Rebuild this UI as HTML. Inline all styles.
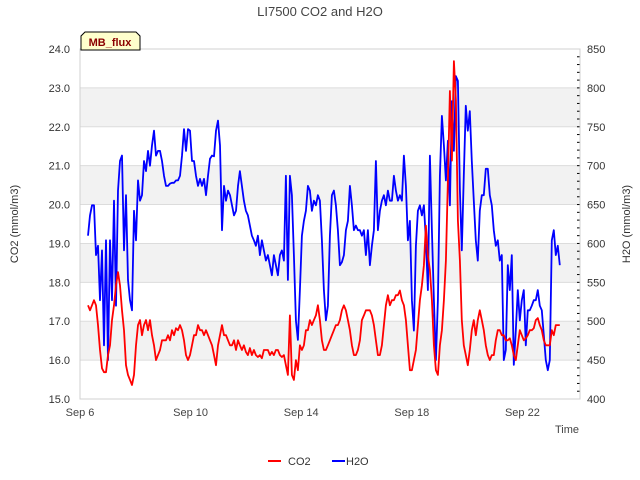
<!DOCTYPE html>
<html><head><meta charset="utf-8"><style>
body{margin:0;background:#fff;font-family:"Liberation Sans","DejaVu Sans",sans-serif;}
svg{display:block}
</style></head><body>
<svg id="chart" width="640" height="480" viewBox="0 0 640 480">
<g id="bands"></g><g id="grid"></g><g id="axes"></g><g id="series"></g>
<text x="320" y="16" text-anchor="middle" font-size="13" fill="#444">LI7500 CO2 and H2O</text>
<text x="18" y="224" text-anchor="middle" font-size="11" fill="#333" transform="rotate(-90 18 224)">CO2 (mmol/m3)</text>
<text x="630" y="224" text-anchor="middle" font-size="11" fill="#333" transform="rotate(-90 630 224)">H2O (mmol/m3)</text>
<text x="579" y="433" text-anchor="end" font-size="11" fill="#444">Time</text>
<g>
<line x1="268" y1="461" x2="281" y2="461" stroke="#f00" stroke-width="2"/>
<text x="288" y="465" font-size="11" fill="#333">CO2</text>
<line x1="332" y1="461" x2="345" y2="461" stroke="#00f" stroke-width="2"/>
<text x="346" y="465" font-size="11" fill="#333">H2O</text>
</g>
<g>
<path d="M81,50 L81,36 L85,32 L136,32 L140,36 L140,50 Z" fill="#ffffcc" stroke="#000" stroke-width="1"/>
<text x="110" y="46" text-anchor="middle" font-size="11" font-weight="bold" fill="#8b0000">MB_flux</text>
</g>
</svg>
<script>
const xTickLabels=["Sep 6","Sep 10","Sep 14","Sep 18","Sep 22"];
const xTickDays=[0,4,8,12,16];
const leftTicks=[15,16,17,18,19,20,21,22,23,24];
const rightTicks=[400,450,500,550,600,650,700,750,800,850];
const startDay=0.29, stepDay=0.0723;
const h2o=[610,636,649,649,585,597,527,591,469,604,450,604,527,655,520,668,706,713,591,662,553,527,514,642,604,681,655,662,706,693,719,700,726,745,713,719,719,706,687,674,674,677,678,678,681,681,687,713,747,719,747,745,706,706,687,674,683,674,683,662,687,709,713,712,745,758,726,617,674,655,668,662,649,636,642,674,693,674,655,642,636,623,610,604,597,610,585,604,591,578,585,572,559,585,572,559,585,591,578,687,553,687,662,585,501,476,540,610,629,642,674,668,642,655,649,662,655,604,540,501,520,610,662,668,649,617,572,576,585,617,629,674,649,617,623,617,617,610,617,585,617,572,597,617,706,617,642,655,662,649,668,655,655,687,668,655,662,655,713,674,604,629,527,488,597,642,649,636,649,604,540,713,617,527,450,527,687,764,726,681,732,649,783,719,815,809,668,591,687,777,745,770,706,655,604,578,642,662,662,696,696,662,649,617,597,604,578,585,450,463,572,540,585,444,488,540,501,527,540,469,514,514,520,527,527,540,520,514,482,450,437,450,604,617,585,597,572];
const co2=[17.41,17.28,17.41,17.54,17.41,16.9,16.26,15.79,15.69,15.69,16.13,16.38,17.03,17.41,17.92,18.26,17.92,17.28,16.77,15.87,15.62,15.49,15.36,15.62,16.38,16.9,17.03,16.64,16.9,17.03,16.77,17.03,16.64,16.38,16.0,16.13,16.26,16.51,16.51,16.51,16.64,16.51,16.77,16.64,16.82,16.77,16.9,16.77,16.51,16.13,16.0,16.13,16.38,16.64,16.64,16.9,16.77,16.77,16.64,16.77,16.64,16.51,16.38,16.13,15.87,16.38,16.64,16.9,16.64,16.64,16.51,16.38,16.38,16.51,16.26,16.51,16.38,16.26,16.38,16.21,16.13,16.31,16.13,16.26,16.13,16.08,16.13,16.05,16.26,16.26,16.26,16.13,16.21,16.13,16.26,16.26,16.13,16.08,16.13,15.87,15.62,17.15,15.62,15.49,16.0,15.74,16.38,16.26,16.38,16.77,16.77,17.03,16.9,17.03,17.15,17.41,17.03,16.51,16.26,16.26,16.38,16.51,16.64,16.77,16.9,16.9,17.03,17.28,17.41,17.28,17.03,16.77,16.38,16.13,16.13,16.26,16.51,17.03,17.15,17.28,17.28,17.28,17.15,16.9,16.51,16.13,16.13,16.38,16.9,17.41,17.67,17.41,17.54,17.54,17.67,17.67,17.79,17.54,17.41,17.03,16.38,15.74,15.74,16.0,16.26,16.9,17.54,17.92,18.44,19.46,18.69,18.31,17.54,16.38,15.74,15.62,16.38,16.77,17.54,18.56,20.62,22.92,21.13,23.69,22.67,19.59,18.56,17.03,16.38,16.13,15.87,16.26,16.77,17.03,16.64,17.03,17.28,17.03,16.77,16.38,16.13,16.0,16.13,16.13,16.51,16.77,16.77,16.64,16.64,16.51,16.51,16.56,16.38,16.13,16.0,16.38,16.77,16.64,16.51,16.56,16.64,16.77,16.77,16.82,17.03,17.08,16.9,16.77,16.51,16.38,16.38,16.38,16.77,16.64,16.9,16.9,16.9];
const NS="http://www.w3.org/2000/svg";
const X0=80,X1=580,PXDAY=27.65,YT=49,YB=399;
function xs(d){return X0+d*PXDAY;}
function yl(v){return YB-(v-15)/9*(YB-YT);}
function yr(v){return YB-(v-400)/450*(YB-YT);}
function mk(tag,attrs,parent){const e=document.createElementNS(NS,tag);for(const k in attrs)e.setAttribute(k,attrs[k]);parent.appendChild(e);return e;}
const bands=document.getElementById('bands'),grid=document.getElementById('grid'),axes=document.getElementById('axes'),series=document.getElementById('series');
[16,18,20,22].forEach(v=>{const r=mk('rect',{x:X0,y:yl(v+1),width:X1-X0,height:yl(v)-yl(v+1),fill:'#f2f2f2'},bands);

});
leftTicks.forEach(v=>{const l=mk('line',{x1:X0,x2:X1,y1:yl(v),y2:yl(v),stroke:'#dcdcdc','stroke-width':1},grid);


const t=mk('text',{x:70,y:yl(v)+4,'text-anchor':'end','font-size':11,fill:'#333'},axes);t.textContent=v.toFixed(1);

});
rightTicks.forEach(v=>{const t=mk('text',{x:587,y:yr(v)+4,'font-size':11,fill:'#333'},axes);t.textContent=v;

});
for(let v=400;v<=850;v+=10){const l=mk('line',{x1:X1-3,x2:X1,y1:yr(v),y2:yr(v),stroke:'#000','stroke-width':1},axes);

}
xTickDays.forEach((d,i)=>{const t=mk('text',{x:xs(d),y:416,'text-anchor':'middle','font-size':11,fill:'#444'},axes);t.textContent=xTickLabels[i];

});
const fr=mk('rect',{x:X0,y:YT,width:X1-X0,height:YB-YT,fill:'none',stroke:'#d0d0d0','stroke-width':1},axes);


function line(vals,ys,color,name){const pts=vals.map((v,i)=>xs(startDay+i*stepDay).toFixed(1)+','+ys(v).toFixed(1)).join(' ');
const p=mk('polyline',{points:pts,fill:'none',stroke:color,'stroke-width':1.8,'stroke-linejoin':'round'},series);

}
line(h2o,yr,'#0000ff','h2o-line');
line(co2,yl,'#ff0000','co2-line');
</script>
</body></html>
